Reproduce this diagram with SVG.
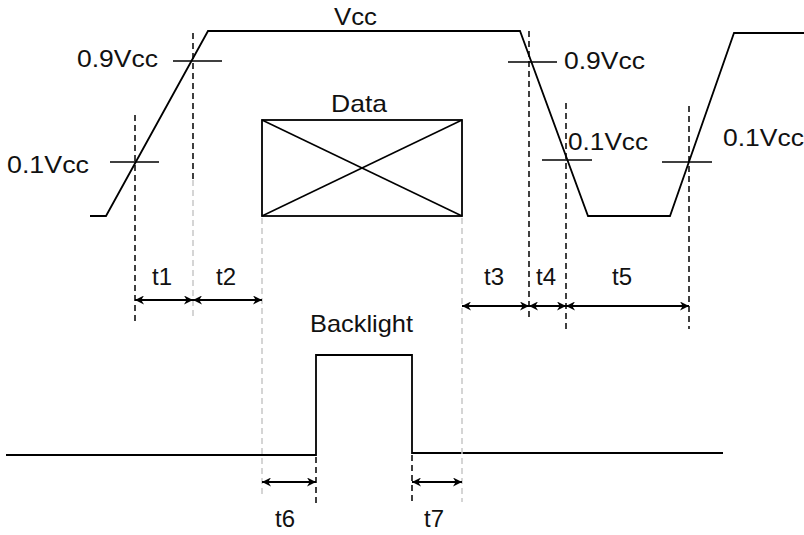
<svg xmlns="http://www.w3.org/2000/svg" width="804" height="535" viewBox="0 0 804 535">
<defs>
<marker id="ah" viewBox="0 0 10 10" refX="10" refY="5" markerWidth="9" markerHeight="9" markerUnits="userSpaceOnUse" orient="auto-start-reverse">
<path d="M0,0 L10,5 L0,10 L3,5 Z" fill="#000"/>
</marker>
</defs>
<style>
.w{fill:none;stroke:#000;stroke-width:1.8;stroke-linejoin:miter}
.tk{stroke:#000;stroke-width:1.5}
.dk{stroke:#000;stroke-width:1.5;stroke-dasharray:6,4}
.dg{stroke:#c8c8c8;stroke-width:1.5;stroke-dasharray:6,4}
.ar{stroke:#000;stroke-width:1.8;marker-start:url(#ah);marker-end:url(#ah)}
text{font-family:"Liberation Sans",Arial,sans-serif;font-size:24px;fill:#111}
</style>
<rect width="804" height="535" fill="#fff"/>
<g id="vcc-wave">
<polyline class="w" points="90,216 106,216 208,31 520,31 588,216 670,216 734,33 804,33"/>
</g>
<g id="data">
<rect x="262" y="120" width="200" height="96" class="w"/>
<line x1="262" y1="120" x2="462" y2="216" class="tk"/>
<line x1="262" y1="216" x2="462" y2="120" class="tk"/>
<text x="331" y="112" textLength="56" lengthAdjust="spacingAndGlyphs">Data</text>
</g>
<g id="backlight">
<polyline class="w" points="6,455 316,455 316,355 412,355 412,453 723,453"/>
<text x="310" y="332" textLength="103" lengthAdjust="spacingAndGlyphs">Backlight</text>
</g>
<g id="levels">
<line x1="173" y1="61" x2="222" y2="61" class="tk"/>
<line x1="110" y1="162" x2="159" y2="162" class="tk"/>
<line x1="508" y1="62" x2="557" y2="62" class="tk"/>
<line x1="542" y1="160" x2="592" y2="160" class="tk"/>
<line x1="662" y1="162" x2="712" y2="162" class="tk"/>
<text x="334" y="25" textLength="43" lengthAdjust="spacingAndGlyphs">Vcc</text>
<text x="77" y="67" textLength="81" lengthAdjust="spacingAndGlyphs">0.9Vcc</text>
<text x="564" y="69" textLength="81" lengthAdjust="spacingAndGlyphs">0.9Vcc</text>
<text x="7" y="173" textLength="82" lengthAdjust="spacingAndGlyphs">0.1Vcc</text>
<text x="568" y="150" textLength="80" lengthAdjust="spacingAndGlyphs">0.1Vcc</text>
<text x="723" y="146" textLength="81" lengthAdjust="spacingAndGlyphs">0.1Vcc</text>
</g>
<g id="connectors">
<line x1="135" y1="115" x2="135" y2="323" class="dk"/>
<line x1="193" y1="33" x2="193" y2="180" class="dk"/>
<line x1="193" y1="180" x2="193" y2="318" class="dg"/>
<line x1="529" y1="31" x2="529" y2="319" class="dk"/>
<line x1="566" y1="103" x2="566" y2="330" class="dk"/>
<line x1="689" y1="106" x2="689" y2="329" class="dk"/>
<line x1="262" y1="218" x2="262" y2="497" class="dg"/>
<line x1="462" y1="218" x2="462" y2="502" class="dg"/>
<line x1="316" y1="457" x2="316" y2="503" class="dk"/>
<line x1="412" y1="455" x2="412" y2="503" class="dk"/>
<line x1="135" y1="300" x2="193" y2="300" class="ar"/>
<line x1="193" y1="300" x2="262" y2="300" class="ar"/>
<line x1="462" y1="306" x2="529" y2="306" class="ar"/>
<line x1="529" y1="306" x2="566" y2="306" class="ar"/>
<line x1="566" y1="306" x2="689" y2="306" class="ar"/>
<line x1="262" y1="482" x2="316" y2="482" class="ar"/>
<line x1="412" y1="482" x2="462" y2="482" class="ar"/>
</g>
<g id="labels">
<text x="152" y="285">t1</text>
<text x="216" y="285">t2</text>
<text x="484" y="285">t3</text>
<text x="536" y="285">t4</text>
<text x="612" y="285">t5</text>
<text x="275" y="527">t6</text>
<text x="424" y="527">t7</text>
</g>
</svg>
